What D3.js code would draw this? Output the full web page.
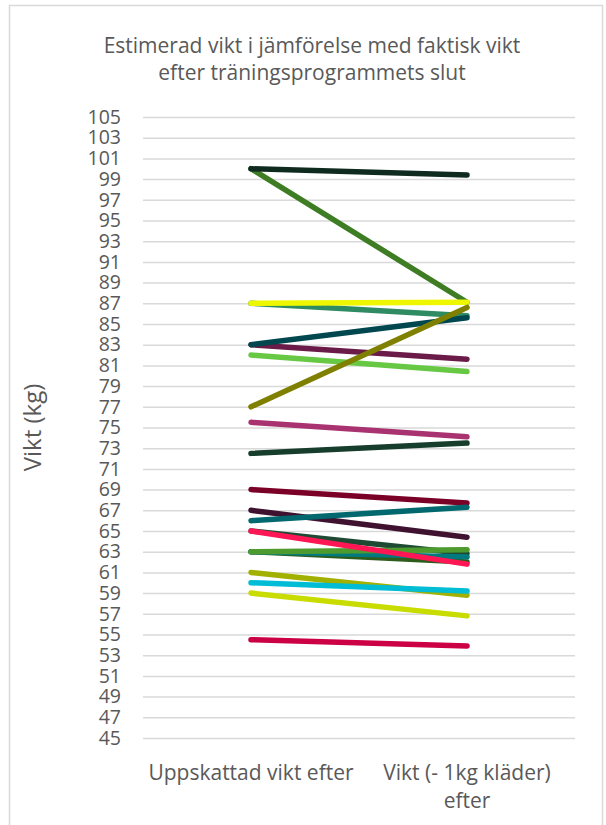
<!DOCTYPE html>
<html lang="sv">
<head>
<meta charset="utf-8">
<title>Estimerad vikt</title>
<script src="https://d3js.org/d3.v7.min.js"></script>
<style>
  body { margin: 0; background: #fff; }
  svg text { font-family: "Open Sans", Lato, sans-serif; fill: #595959; }
</style>
</head>
<body>
<svg id="chart"></svg>
<script>
// categories on the x axis
var categories = ["Uppskattad vikt efter", "Vikt (- 1kg kläder) efter"];
// one value per person for each category
var estimated = [100, 100, 87, 87, 83, 83, 82, 77, 75.5, 72.5, 69, 67, 66, 65, 65, 63, 63, 63, 61, 60, 59, 54.5];
var actual    = [99.4, 87.1, 87.1, 85.8, 85.6, 81.6, 80.4, 86.6, 74.1, 73.5, 67.7, 64.4, 67.3, 62.8, 61.8, 62.0, 62.5, 63.2, 58.8, 59.2, 56.8, 53.9];
var yTicks = d3.range(45, 106, 2);
var palette = ["#0f2b20", "#3e7d23", "#eef700", "#2e8b62", "#00474f", "#6a1b48", "#66c843", "#7f8000",
               "#a83370", "#173d2c", "#7b0028", "#3f1330", "#00686e", "#1e4a33", "#ff1654", "#2e5c1c",
               "#007a7e", "#4d9a2e", "#a2b000", "#00bcd4", "#c8dc00", "#cc0044"];
// draw order so overlaps look like the original
var order = [1, 0, 3, 2, 5, 4, 6, 7, 8, 9, 10, 11, 12, 13, 15, 16, 17, 14, 18, 19, 20, 21];

var width = 606, height = 825;
var plot = {left: 143, right: 575, top: 117, bottom: 738};

var svg = d3.select("#chart").attr("width", width).attr("height", height);

svg.append("rect")
  .attr("x", 9.5).attr("y", 5.5)
  .attr("width", 593).attr("height", 830)
  .attr("fill", "#fff").attr("stroke", "#d9d9d9").attr("stroke-width", 1.5);

var x = d3.scalePoint().domain(categories).range([plot.left, plot.right]).padding(0.5);
var y = d3.scaleLinear().domain([45, 105]).range([plot.bottom, plot.top]);

// y axis + gridlines
var yAxis = d3.axisLeft(y)
  .tickValues(yTicks)
  .tickSize(-(plot.right - plot.left))
  .tickPadding(22)
  .tickFormat(d3.format("d"));

var gy = svg.append("g")
  .attr("transform", "translate(" + plot.left + ",0)")
  .call(yAxis);
gy.select(".domain").remove();
gy.selectAll(".tick line").attr("stroke", "#d9d9d9").attr("stroke-width", 1.5);
gy.selectAll(".tick text").attr("font-size", 19.5).attr("font-family", "'Open Sans', sans-serif").attr("fill", "#595959");

// lines
var people = order.map(function(i) {
  return {color: palette[i], pts: [[categories[0], estimated[i]], [categories[1], actual[i]]]};
});
var line = d3.line().x(function(d) { return x(d[0]); }).y(function(d) { return y(d[1]); });

svg.append("g").selectAll("path")
  .data(people)
  .enter()
  .append("path")
  .attr("d", function(d) { return line(d.pts); })
  .attr("fill", "none")
  .attr("stroke", function(d) { return d.color; })
  .attr("stroke-width", 5.5)
  .attr("stroke-linecap", "round");

// category labels (wrapped)
var labels = svg.append("g").selectAll("text")
  .data(categories)
  .enter()
  .append("text")
  .attr("text-anchor", "middle")
  .attr("font-size", 21)
  .attr("y", 780);

labels.each(function(d) {
  var t = d3.select(this), words = d.split(" "), lineTxt = [], n = 0;
  var ts = t.append("tspan").attr("x", x(d)).attr("y", 780);
  words.forEach(function(w) {
    lineTxt.push(w);
    ts.text(lineTxt.join(" "));
    if (ts.node().getComputedTextLength() > 212 && lineTxt.length > 1) {
      lineTxt.pop();
      ts.text(lineTxt.join(" "));
      lineTxt = [w];
      n++;
      ts = t.append("tspan").attr("x", x(d)).attr("y", 780 + n * 28).text(w);
    }
  });
});

// axis title
svg.append("text")
  .attr("transform", "translate(41," + ((plot.top + plot.bottom) / 2) + ") rotate(-90)")
  .attr("text-anchor", "middle")
  .attr("font-size", 24)
  .text("Vikt (kg)");

// chart title
var title = svg.append("text").attr("text-anchor", "middle").attr("font-size", 21);
title.append("tspan").attr("x", 312).attr("y", 53).text("Estimerad vikt i jämförelse med faktisk vikt");
title.append("tspan").attr("x", 312).attr("y", 80).text("efter träningsprogrammets slut");
</script>
</body>
</html>
